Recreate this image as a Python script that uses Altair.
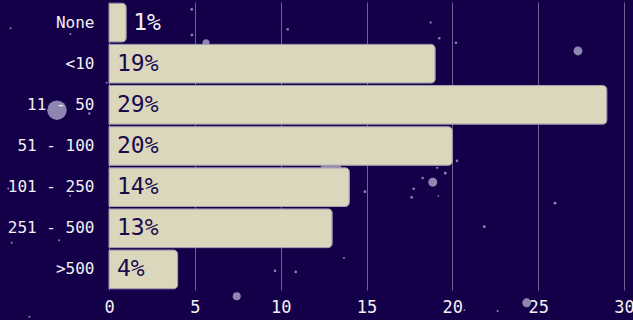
import altair as alt
import pandas as pd

categories = ["None", "<10", "11 - 50", "51 - 100", "101 - 250", "251 - 500", ">500"]
values = [1, 19, 29, 20, 14, 13, 4]
x_ticks = [0, 5, 10, 15, 20, 25, 30]

# decorative background "stars" (x in value units, y in row units from top)
star_x = [-3.03, 27.32, 18.86, 7.44, 24.33, 12.93, 5.65,
          4.82, 4.83, 10.41, 18.74, 19.24, 20.21, 20.27, 19.12, 19.59, 18.27,
          17.75, 17.63, 19.18, 14.91, 21.86, 25.98, 22.64, 20.70, 9.67, 10.88,
          13.69, -5.67, -2.90, -4.64, -5.73, -2.25, -1.15, -0.13, -5.87, -2.27]
star_y = [2.63, 1.19, 4.38, 7.15, 7.31, 4.08, 0.99,
          0.18, 0.80, 0.66, 0.50, 0.88, 0.99, 3.86, 4.03, 4.16, 4.28,
          4.54, 4.75, 4.71, 4.61, 5.46, 4.89, 7.51, 7.49, 6.53, 6.56,
          6.22, 5.85, 5.79, 7.65, 0.64, 0.78, 2.71, 1.96, 4.53, 4.71]
star_size = [380, 80, 80, 64, 78, 450, 50,
             7, 7, 6, 5, 6, 6, 7, 5, 7, 6,
             7, 7, 3, 7, 8, 8, 4, 3, 6, 7,
             4, 4, 4, 4, 4, 4, 6, 4, 4, 4]

df = pd.DataFrame({"cat": categories, "val": values,
                   "label": [f"{v}%" for v in values]})
stars = pd.DataFrame({"x": star_x, "y": star_y, "s": star_size})

FONT = "DejaVu Sans Mono"
BG = "#130049"

xscale = alt.Scale(domain=[0, 30], nice=False, zero=True)
yscale = alt.Scale(domain=categories, paddingInner=0.06, paddingOuter=0.03)

xaxis = alt.Axis(values=x_ticks, grid=True, gridColor="#6c6390",
                 gridWidth=1, domain=False, ticks=False,
                 labelFont=FONT, labelFontSize=17, labelColor="#f2f0f0",
                 labelPadding=9, labelFlush=False, zindex=0)

star_layer = alt.Chart(stars).mark_circle(color="#8e86b0", opacity=1).encode(
    x=alt.X("x:Q", scale=xscale, axis=xaxis, title=None),
    y=alt.Y("y:Q", scale=alt.Scale(domain=[0, 7], reverse=True, nice=False, zero=False), axis=None),
    size=alt.Size("s:Q", scale=None, legend=None),
)

base = alt.Chart(df)

bars = base.mark_bar(color="#dbd7bd", cornerRadiusEnd=4, stroke="#a8a2b4",
                     strokeWidth=1).encode(
    x=alt.X("val:Q", scale=xscale, title=None, axis=xaxis),
    y=alt.Y("cat:N", scale=yscale, sort=categories, title=None,
            axis=alt.Axis(domain=False, ticks=False, tickSize=0, grid=False,
                          labelFont=FONT, labelFontSize=16, labelColor="#f2f0f0",
                          labelPadding=15, zindex=5)),
)

inside = base.transform_calculate(zero="0").transform_filter(alt.datum.val >= 2).mark_text(
    align="left", baseline="middle", dx=8, font=FONT, fontSize=23,
    color="#1a0b4d").encode(
    x=alt.X("zero:Q", scale=xscale),
    y=alt.Y("cat:N", scale=yscale, sort=categories),
    text="label:N",
)

outside = base.transform_filter(alt.datum.val < 2).mark_text(
    align="left", baseline="middle", dx=7, font=FONT, fontSize=23,
    color="#f2f0f0").encode(
    x=alt.X("val:Q", scale=xscale),
    y=alt.Y("cat:N", scale=yscale, sort=categories),
    text="label:N",
)

main = alt.layer(bars, inside, outside)

chart = alt.layer(star_layer, main).resolve_scale(y="independent").properties(
    width=515, height=288,
    background=BG,
    padding={"left": 109, "top": 2, "right": 9, "bottom": 30},
    autosize=alt.AutoSizeParams(type="none"),
).configure_view(stroke=None, fill=BG).configure_axisY(zindex=5)

chart.save("out.html", embed_options={"renderer": "svg", "actions": False})
